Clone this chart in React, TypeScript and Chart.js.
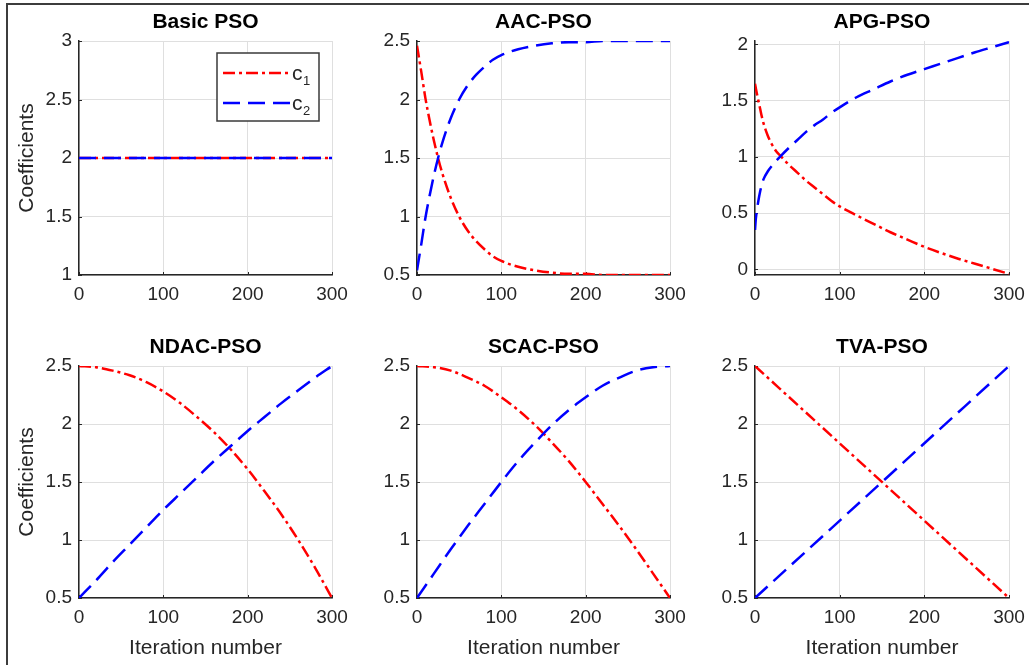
import React, { useEffect, useRef } from "react";
import { Chart, registerables } from "chart.js";

Chart.register(...registerables);

const FONT = "'Liberation Sans', Arial, Helvetica, sans-serif";
const AXIS_COLOR = "#262626";
const GRID_COLOR = "#dfdfdf";
const C1_COLOR = "#ff0000";
const C2_COLOR = "#0000ff";

// ---- data ----
const xTickValues = [0, 100, 200, 300];

const basicIter = [0, 300];
const basicC1 = [2, 2];
const basicC2 = [2, 2];
const basicYTicks = [1, 1.5, 2, 2.5, 3];

const aacIter = [0, 5, 10, 15, 20, 25, 30, 40, 50, 60, 70, 80, 90, 100, 120, 140, 160, 180, 200, 220, 240, 260, 280, 300];
const aacC1 = [2.46, 2.24, 2.01, 1.82, 1.65, 1.5, 1.37, 1.16, 1.0, 0.88, 0.79, 0.72, 0.66, 0.62, 0.57, 0.54, 0.52, 0.51, 0.51, 0.5, 0.5, 0.5, 0.5, 0.5];
const aacC2 = [0.54, 0.76, 0.99, 1.18, 1.35, 1.5, 1.63, 1.84, 2.0, 2.12, 2.21, 2.28, 2.34, 2.38, 2.43, 2.46, 2.48, 2.49, 2.49, 2.5, 2.5, 2.5, 2.5, 2.5];

const apgIter = [0, 1, 2, 4, 6, 8, 10, 15, 20, 25, 30, 40, 50, 60, 70, 80, 90, 100, 120, 140, 160, 180, 200, 220, 240, 260, 280, 300];
const apgC1 = [1.65, 1.61, 1.57, 1.5, 1.43, 1.36, 1.3, 1.19, 1.11, 1.05, 1.01, 0.93, 0.86, 0.79, 0.73, 0.67, 0.61, 0.56, 0.48, 0.405, 0.33, 0.265, 0.2, 0.145, 0.095, 0.05, 0.005, -0.04];
const apgC2 = [0.35, 0.45, 0.51, 0.61, 0.69, 0.75, 0.8, 0.87, 0.92, 0.965, 1.005, 1.08, 1.15, 1.22, 1.28, 1.33, 1.39, 1.44, 1.53, 1.6, 1.67, 1.73, 1.78, 1.83, 1.88, 1.93, 1.975, 2.02];
const apgYTicks = [0, 0.5, 1, 1.5, 2];

const stepIter = [0, 20, 40, 60, 80, 100, 120, 140, 160, 180, 200, 220, 240, 260, 280, 300];
const ndacC1 = [2.5, 2.49, 2.46, 2.42, 2.36, 2.28, 2.18, 2.06, 1.93, 1.78, 1.61, 1.42, 1.22, 1.0, 0.76, 0.5];
const ndacC2 = [0.5, 0.65, 0.81, 0.96, 1.11, 1.26, 1.4, 1.54, 1.68, 1.81, 1.94, 2.06, 2.18, 2.29, 2.4, 2.5];

const scacC1 = [2.5, 2.49, 2.46, 2.4, 2.33, 2.23, 2.12, 1.99, 1.84, 1.68, 1.5, 1.31, 1.12, 0.92, 0.71, 0.5];
const scacC2 = [0.5, 0.71, 0.92, 1.12, 1.31, 1.5, 1.68, 1.84, 1.99, 2.12, 2.23, 2.33, 2.4, 2.46, 2.49, 2.5];

const tvaIter = [0, 300];
const tvaC1 = [2.5, 0.5];
const tvaC2 = [0.5, 2.5];

const stdYTicks = [0.5, 1, 1.5, 2, 2.5];

type Panel = {
  title: string;
  box: [number, number, number, number]; // plot left, top, right, bottom
  yMin: number;
  yMax: number;
  yTicks: number[];
  x1: number[];
  y1: number[];
  x2: number[];
  y2: number[];
  yLabel: boolean;
  xLabel: boolean;
  legend: boolean;
};

const panels: Panel[] = [
  { title: "Basic PSO", box: [79, 41, 332, 275], yMin: 1, yMax: 3, yTicks: basicYTicks, x1: basicIter, y1: basicC1, x2: basicIter, y2: basicC2, yLabel: true, xLabel: false, legend: true },
  { title: "AAC-PSO", box: [417, 41, 670, 275], yMin: 0.5, yMax: 2.5, yTicks: stdYTicks, x1: aacIter, y1: aacC1, x2: aacIter, y2: aacC2, yLabel: false, xLabel: false, legend: false },
  { title: "APG-PSO", box: [755, 41, 1009, 275], yMin: -0.05, yMax: 2.03, yTicks: apgYTicks, x1: apgIter, y1: apgC1, x2: apgIter, y2: apgC2, yLabel: false, xLabel: false, legend: false },
  { title: "NDAC-PSO", box: [79, 366, 332, 598], yMin: 0.5, yMax: 2.5, yTicks: stdYTicks, x1: stepIter, y1: ndacC1, x2: stepIter, y2: ndacC2, yLabel: true, xLabel: true, legend: false },
  { title: "SCAC-PSO", box: [417, 366, 670, 598], yMin: 0.5, yMax: 2.5, yTicks: stdYTicks, x1: stepIter, y1: scacC1, x2: stepIter, y2: scacC2, yLabel: false, xLabel: true, legend: false },
  { title: "TVA-PSO", box: [755, 366, 1009, 598], yMin: 0.5, yMax: 2.5, yTicks: stdYTicks, x1: tvaIter, y1: tvaC1, x2: tvaIter, y2: tvaC2, yLabel: false, xLabel: true, legend: false },
];

const Y_AXIS_W = 79;
const TOP_H = 41;
const RIGHT_PAD = 24;
const X_AXIS_H = 66;

const innerTicksPlugin = {
  id: "innerTicks",
  beforeDatasetsDraw(chart: any) {
    const { ctx, chartArea: a, scales } = chart;
    const x = scales.x;
    const y = scales.y;
    ctx.save();
    ctx.strokeStyle = AXIS_COLOR;
    ctx.lineWidth = 1;
    y.ticks.forEach((t: any) => {
      const py = Math.round(y.getPixelForValue(t.value)) + 0.5;
      ctx.beginPath();
      ctx.moveTo(a.left, py);
      ctx.lineTo(a.left + 3, py);
      ctx.stroke();
    });
    x.ticks.forEach((t: any) => {
      const px = Math.round(x.getPixelForValue(t.value)) + 0.5;
      ctx.beginPath();
      ctx.moveTo(px, a.bottom);
      ctx.lineTo(px, a.bottom - 3);
      ctx.stroke();
    });
    ctx.restore();
  },
};

const legendPlugin = {
  id: "matlabLegend",
  afterDatasetsDraw(chart: any, _args: any, opts: any) {
    if (!opts || !opts.show) return;
    const { ctx, chartArea: a } = chart;
    const bw = 102;
    const bh = 68;
    const bx = a.right - 13 - bw;
    const by = a.top + 12;
    ctx.save();
    ctx.fillStyle = "#ffffff";
    ctx.fillRect(bx, by, bw, bh);
    ctx.strokeStyle = "#3a3a3a";
    ctx.lineWidth = 1.5;
    ctx.strokeRect(bx, by, bw, bh);
    const items = [
      { color: C1_COLOR, dash: [12, 4, 3, 4], sub: "1", y: by + 20 },
      { color: C2_COLOR, dash: [17, 8], sub: "2", y: by + 50 },
    ];
    items.forEach((it) => {
      ctx.strokeStyle = it.color;
      ctx.lineWidth = 2.5;
      ctx.lineCap = "butt";
      ctx.setLineDash(it.dash);
      ctx.beginPath();
      ctx.moveTo(bx + 6, it.y);
      ctx.lineTo(bx + 74, it.y);
      ctx.stroke();
      ctx.setLineDash([]);
      ctx.fillStyle = AXIS_COLOR;
      ctx.textAlign = "left";
      ctx.textBaseline = "alphabetic";
      ctx.font = `21px ${FONT}`;
      ctx.fillText("c", bx + 75, it.y + 7);
      ctx.font = `13px ${FONT}`;
      ctx.fillText(it.sub, bx + 86, it.y + 12);
    });
    ctx.restore();
  },
};

function toPoints(xs: number[], ys: number[]) {
  return xs.map((x, i) => ({ x, y: ys[i] }));
}

function PanelChart({ p }: { p: Panel }) {
  const ref = useRef<HTMLCanvasElement | null>(null);
  const [L, T, R, B] = p.box;
  const x0 = L - Y_AXIS_W;
  const y0 = T - TOP_H;
  const w = R - x0 + RIGHT_PAD;
  const h = B - y0 + X_AXIS_H;

  useEffect(() => {
    if (!ref.current) return;
    const tickFont = { family: FONT, size: 19 };
    const chart = new Chart(ref.current, {
      type: "line",
      data: {
        datasets: [
          {
            label: "c1",
            data: toPoints(p.x1, p.y1),
            borderColor: C1_COLOR,
            borderWidth: 2.5,
            borderDash: [12, 4, 3, 4],
            borderCapStyle: "butt",
            pointRadius: 0,
            fill: false,
            cubicInterpolationMode: "monotone",
            order: 1,
          },
          {
            label: "c2",
            data: toPoints(p.x2, p.y2),
            borderColor: C2_COLOR,
            borderWidth: 2.5,
            borderDash: [17, 8],
            borderCapStyle: "butt",
            pointRadius: 0,
            fill: false,
            cubicInterpolationMode: "monotone",
            order: 0,
          },
        ],
      },
      options: {
        responsive: false,
        animation: false,
        events: [],
        layout: { padding: { left: 0, top: 0, right: RIGHT_PAD, bottom: 0 } },
        plugins: {
          legend: { display: false },
          tooltip: { enabled: false },
          title: {
            display: true,
            text: p.title,
            color: "#000000",
            fullSize: false,
            font: { family: FONT, size: 21, weight: "bold", lineHeight: 1.2 },
            padding: { top: 10, bottom: 5.8 },
          },
          matlabLegend: { show: p.legend },
        } as any,
        scales: {
          x: {
            type: "linear",
            min: 0,
            max: 300,
            afterFit: (s: any) => {
              s.height = X_AXIS_H;
            },
            afterBuildTicks: (s: any) => {
              s.ticks = xTickValues.map((v) => ({ value: v }));
            },
            grid: { color: GRID_COLOR, lineWidth: 1, drawTicks: false },
            border: { display: true, color: AXIS_COLOR, width: 1.5 },
            ticks: {
              color: AXIS_COLOR,
              font: tickFont,
              padding: 8,
              maxRotation: 0,
              autoSkip: false,
              callback: (v: any) => String(v),
            },
            title: {
              display: p.xLabel,
              text: "Iteration number",
              color: AXIS_COLOR,
              font: { family: FONT, size: 21, lineHeight: 1.2 },
              padding: { top: 0, bottom: 3.4 },
            },
          },
          y: {
            type: "linear",
            min: p.yMin,
            max: p.yMax,
            afterFit: (s: any) => {
              s.width = Y_AXIS_W;
            },
            afterBuildTicks: (s: any) => {
              s.ticks = p.yTicks.map((v) => ({ value: v }));
            },
            grid: { color: GRID_COLOR, lineWidth: 1, drawTicks: false },
            border: { display: true, color: AXIS_COLOR, width: 1.5 },
            ticks: {
              color: AXIS_COLOR,
              font: tickFont,
              padding: 7,
              autoSkip: false,
              callback: (v: any) => String(v),
            },
            title: {
              display: p.yLabel,
              text: "Coefficients",
              color: AXIS_COLOR,
              font: { family: FONT, size: 21, lineHeight: 1.2 },
              padding: { top: 14.4, bottom: 0 },
            },
          },
        },
      } as any,
      plugins: [innerTicksPlugin, legendPlugin],
    });
    return () => chart.destroy();
  }, []);

  return (
    <canvas
      ref={ref}
      width={w}
      height={h}
      style={{ position: "absolute", left: x0, top: y0, width: w, height: h }}
    />
  );
}

export default function App() {
  return (
    <div
      style={{
        position: "fixed",
        left: 0,
        top: 0,
        width: 1029,
        height: 665,
        background: "#ffffff",
        overflow: "hidden",
      }}
    >
      <div
        style={{
          position: "absolute",
          left: 6,
          top: 3,
          width: 1029,
          height: 700,
          borderTop: "2px solid #3c3c3c",
          borderLeft: "2px solid #3c3c3c",
        }}
      />
      {panels.map((p) => (
        <PanelChart key={p.title} p={p} />
      ))}
    </div>
  );
}
